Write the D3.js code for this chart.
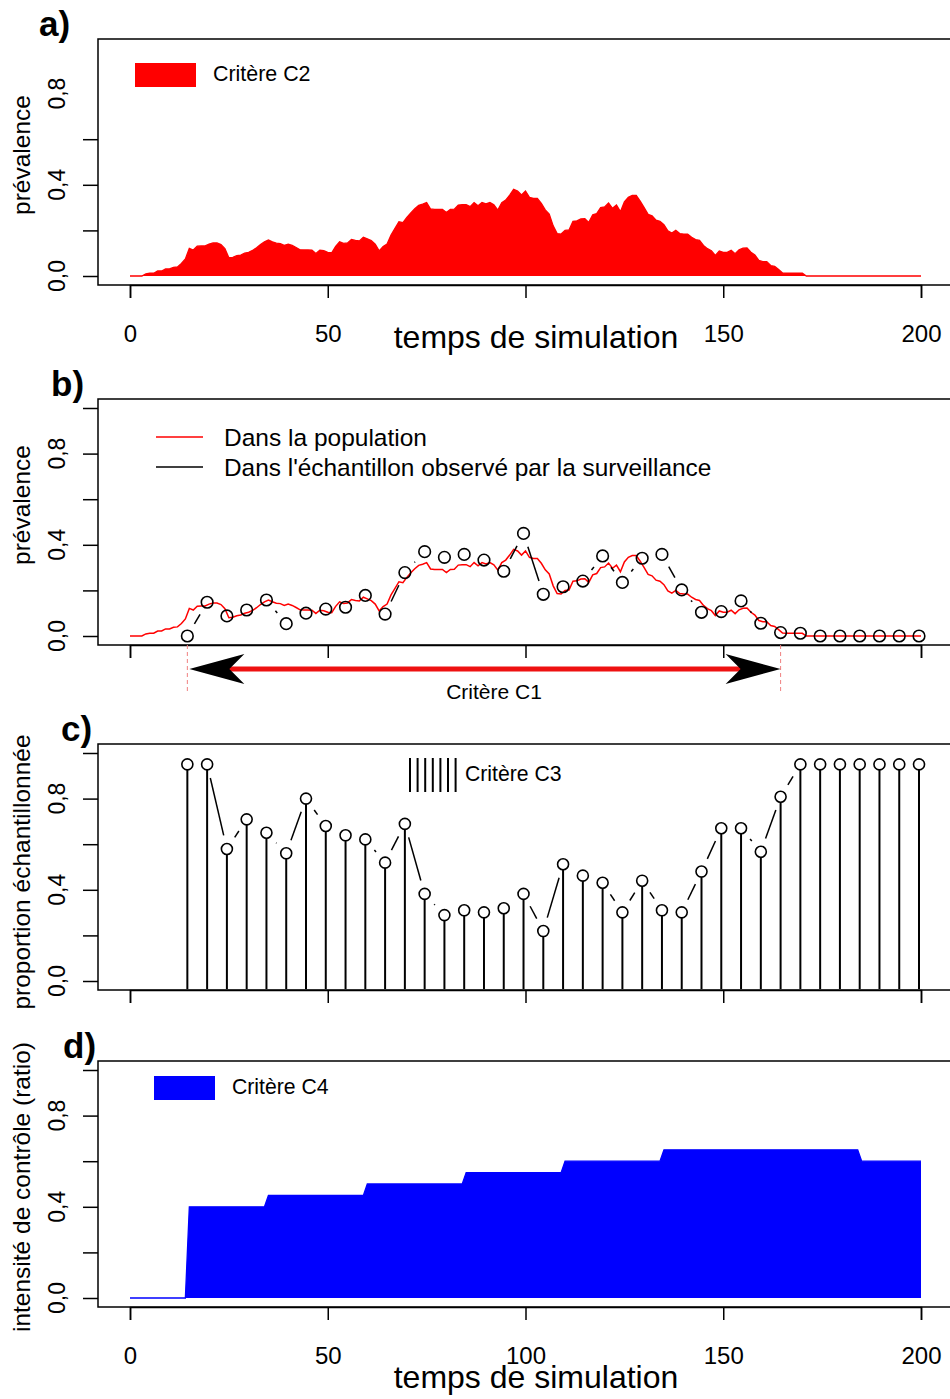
<!DOCTYPE html>
<html><head><meta charset="utf-8">
<script src="https://cdn.jsdelivr.net/npm/d3@7"></script>
<style>body{margin:0;background:#fff} svg{display:block}</style>
</head><body>
<script>
// ---------- DATA ----------
const prevalence = [
 0,0,0,0,0.009,0.012,0.012,0.022,0.022,0.031,
 0.031,0.038,0.04,0.055,0.075,0.121,0.114,0.131,0.132,0.132,
 0.14,0.145,0.145,0.138,0.12,0.08,0.082,0.089,0.092,0.1,
 0.104,0.112,0.124,0.138,0.15,0.158,0.15,0.144,0.142,0.134,
 0.14,0.134,0.125,0.115,0.114,0.114,0.113,0.099,0.113,0.111,
 0.104,0.102,0.13,0.15,0.143,0.145,0.16,0.156,0.154,0.17,
 0.163,0.155,0.14,0.11,0.129,0.14,0.18,0.209,0.238,0.234,
 0.257,0.277,0.295,0.31,0.315,0.322,0.294,0.292,0.292,0.292,
 0.278,0.292,0.293,0.311,0.313,0.313,0.304,0.322,0.308,0.322,
 0.316,0.322,0.312,0.289,0.322,0.333,0.355,0.38,0.373,0.355,
 0.373,0.345,0.34,0.34,0.319,0.29,0.272,0.22,0.186,0.184,
 0.2,0.202,0.24,0.242,0.25,0.251,0.235,0.268,0.274,0.3,
 0.303,0.32,0.297,0.311,0.282,0.325,0.345,0.353,0.353,0.328,
 0.3,0.27,0.264,0.245,0.24,0.225,0.198,0.188,0.2,0.186,
 0.184,0.184,0.17,0.16,0.156,0.134,0.12,0.111,0.09,0.11,
 0.104,0.104,0.113,0.098,0.115,0.122,0.123,0.104,0.092,0.068,
 0.063,0.063,0.046,0.042,0.028,0.013,0.012,0.012,0.012,0.012,
 0.012,0,0,0,0,0,0,0,0,0,
 0,0,0,0,0,0,0,0,0,0,
 0,0,0,0,0,0,0,0,0,0,
 0
];
const sampleTimes = [14.5,19.5,24.5,29.5,34.5,39.5,44.5,49.5,54.5,59.5,64.5,69.5,74.5,79.5,84.5,89.5,94.5,99.5,104.5,109.5,
  114.5,119.5,124.5,129.5,134.5,139.5,144.5,149.5,154.5,159.5,164.5,169.5,174.5,179.5,184.5,189.5,194.5,199.5];
const samplePrev = [0,0.148,0.088,0.114,0.158,0.054,0.1,0.118,0.126,0.178,0.096,0.278,0.37,0.345,0.358,0.333,0.284,0.45,0.183,0.216,
  0.241,0.351,0.235,0.341,0.358,0.202,0.104,0.107,0.154,0.056,0.015,0.012,0,0,0,0,0,0];
const sampleProp = [0.95,0.95,0.579,0.709,0.65,0.56,0.8,0.68,0.639,0.621,0.519,0.689,0.382,0.289,0.31,0.301,0.319,0.382,0.219,0.512,
  0.462,0.431,0.301,0.44,0.31,0.301,0.48,0.67,0.67,0.567,0.808,0.95,0.95,0.95,0.95,0.95,0.95,0.95];
const controlTimes  = [0,14,15,34,35,59,60,84,85,109,110,134,135,184,185,200];
const controlValues = [0,0,0.4,0.4,0.45,0.45,0.5,0.5,0.55,0.55,0.6,0.6,0.65,0.65,0.6,0.6];
const xTicks = [0,50,100,150,200];
const xTickLabelsA = ["0","50","","150","200"];
const xTickLabelsD = ["0","50","100","150","200"];
const yLabelTicks = [0,0.4,0.8];
const yTicksA = [0,0.2,0.4,0.6];
const yTicksFull = [0,0.2,0.4,0.6,0.8,1.0];
const c1Range = [14.5,164.5];

// ---------- DRAW ----------
const W=950,H=1399;
const FONT="'Liberation Sans', Arial, Helvetica, sans-serif";
const svg=d3.select("body").append("svg").attr("width",W).attr("height",H)
  .style("font-family",FONT);
const x=d3.scaleLinear().domain([0,200]).range([130,921]);
const boxL=98, boxR=974;
const fmt=d=>d3.format(".1f")(d).replace(".",",");

function panel(y0, opts){
  const y=d3.scaleLinear().domain([0,1]).range([y0,y0-228]);
  const top=y0-237, bot=y0+9;
  const g=svg.append("g");
  g.append("rect").attr("x",boxL).attr("y",top).attr("width",boxR-boxL).attr("height",bot-top)
    .attr("fill","none").attr("stroke","#000").attr("stroke-width",1.5);
  const yAx=d3.axisLeft(y).tickValues(opts.yTicks).tickSize(15).tickFormat("");
  const ya=g.append("g").attr("transform",`translate(${boxL},0)`).call(yAx);
  ya.select(".domain").remove();
  ya.selectAll("line").attr("stroke","#000").attr("stroke-width",1.5);
  g.selectAll(".yl").data(yLabelTicks).join("text")
    .attr("transform",d=>`translate(65,${y(d)}) rotate(-90)`)
    .attr("text-anchor","middle").attr("font-size",23).text(fmt);
  g.append("text").attr("transform",`translate(${opts.ylabX||30},${opts.ylabY}) rotate(-90)`)
    .attr("text-anchor","middle").attr("font-size",24.5).text(opts.ylab);
  const labs=opts.xlabels;
  const xAx=d3.axisBottom(x).tickValues(xTicks).tickSize(13)
    .tickFormat(labs?((d,i)=>labs[i]):"");
  const xa=g.append("g").attr("transform",`translate(0,${bot})`).call(xAx);
  xa.select(".domain").attr("stroke","#000").attr("stroke-width",1.5);
  xa.selectAll("line").attr("stroke","#000").attr("stroke-width",1.5);
  xa.selectAll("text").attr("font-size",24).attr("font-family",FONT).attr("fill","#000").attr("dy",0).attr("y",57);
  g.append("text").attr("x",opts.labX).attr("y",top-3).attr("font-size",35).attr("font-weight","bold").text(opts.label);
  return {g,y,top,bot};
}

// ---- a) ----
{
  const p=panel(276,{yTicks:yTicksA,ylab:"prévalence",ylabY:155,label:"a)",labX:39,xlabels:xTickLabelsA});
  const area=d3.area().x((d,i)=>x(i)).y0(p.y(0)).y1(d=>p.y(d));
  p.g.append("path").datum(prevalence).attr("d",area).attr("fill","#ff0000");
  p.g.append("path").datum(prevalence).attr("d",d3.line().x((d,i)=>x(i)).y(d=>p.y(d)))
    .attr("fill","none").attr("stroke","#ff0000").attr("stroke-width",1.3);
  p.g.append("rect").attr("x",135).attr("y",63).attr("width",61).attr("height",24).attr("fill","#ff0000");
  p.g.append("text").attr("x",213).attr("y",81).attr("font-size",21.4).text("Critère C2");
  p.g.append("text").attr("x",536).attr("y",348).attr("text-anchor","middle").attr("font-size",32).text("temps de simulation");
}

function typeB(g, xs, ys, gap, stroke){
  for(let i=0;i<xs.length-1;i++){
    const x1=xs[i],y1=ys[i],x2=xs[i+1],y2=ys[i+1];
    const L=Math.hypot(x2-x1,y2-y1);
    if(L<=2*gap) continue;
    const ux=(x2-x1)/L, uy=(y2-y1)/L;
    g.append("line").attr("x1",x1+ux*gap).attr("y1",y1+uy*gap).attr("x2",x2-ux*gap).attr("y2",y2-uy*gap)
      .attr("stroke",stroke).attr("stroke-width",1.5);
  }
}

// ---- b) ----
{
  const p=panel(636,{yTicks:yTicksFull,ylab:"prévalence",ylabY:505,label:"b)",labX:51,xlabels:null});
  p.g.append("path").datum(prevalence).attr("d",d3.line().x((d,i)=>x(i)).y(d=>p.y(d)))
    .attr("fill","none").attr("stroke","#ff0000").attr("stroke-width",1.5);
  const xs=sampleTimes.map(t=>x(t)), ys=samplePrev.map(v=>p.y(v));
  typeB(p.g,xs,ys,14,"#000");
  p.g.selectAll(".pt").data(sampleTimes).join("circle")
    .attr("cx",(d)=>x(d)).attr("cy",(d,i)=>p.y(samplePrev[i])).attr("r",5.8)
    .attr("fill","none").attr("stroke","#000").attr("stroke-width",1.6);
  p.g.append("line").attr("x1",156).attr("x2",203).attr("y1",437).attr("y2",437).attr("stroke","#ff0000").attr("stroke-width",1.5);
  p.g.append("line").attr("x1",156).attr("x2",203).attr("y1",467).attr("y2",467).attr("stroke","#000").attr("stroke-width",1.5);
  p.g.append("text").attr("x",224).attr("y",446).attr("font-size",24.5).text("Dans la population");
  p.g.append("text").attr("x",224).attr("y",476).attr("font-size",24.4).text("Dans l'échantillon observé par la surveillance");
  const ay=669;
  c1Range.forEach(t=>{
    p.g.append("line").attr("x1",x(t)).attr("x2",x(t)).attr("y1",p.bot).attr("y2",692)
      .attr("stroke","#f08080").attr("stroke-width",1).attr("stroke-dasharray","4,3");
  });
  const xl=x(c1Range[0]), xr=x(c1Range[1]);
  p.g.append("line").attr("x1",xl+30).attr("x2",xr-30).attr("y1",ay).attr("y2",ay).attr("stroke","#ee1111").attr("stroke-width",5);
  const head=(tx,dir)=>{
    const L=55,Hh=15,N=40;
    return `M${tx},${ay} L${tx+dir*L},${ay-Hh} L${tx+dir*N},${ay} L${tx+dir*L},${ay+Hh} Z`;
  };
  p.g.append("path").attr("d",head(xl+2,1)).attr("fill","#000");
  p.g.append("path").attr("d",head(xr,-1)).attr("fill","#000");
  p.g.append("text").attr("x",494).attr("y",699).attr("text-anchor","middle").attr("font-size",21).text("Critère C1");
}

// ---- c) ----
{
  const p=panel(981,{yTicks:yTicksFull,ylab:"proportion échantillonnée",ylabY:872,label:"c)",labX:61,xlabels:null});
  const xs=sampleTimes.map(t=>x(t)), ys=sampleProp.map(v=>p.y(v));
  p.g.selectAll(".st").data(sampleTimes).join("line")
    .attr("x1",d=>x(d)).attr("x2",d=>x(d)).attr("y1",(d,i)=>p.y(sampleProp[i])).attr("y2",p.bot-1)
    .attr("stroke","#000").attr("stroke-width",2);
  typeB(p.g,xs,ys,14,"#000");
  p.g.selectAll(".pt").data(sampleTimes).join("circle")
    .attr("cx",d=>x(d)).attr("cy",(d,i)=>p.y(sampleProp[i])).attr("r",5.5)
    .attr("fill","#fff").attr("stroke","#000").attr("stroke-width",1.6);
  for(let k=0;k<7;k++){
    const lx=410+k*7.6;
    p.g.append("line").attr("x1",lx).attr("x2",lx).attr("y1",758).attr("y2",792).attr("stroke","#000").attr("stroke-width",2);
  }
  p.g.append("text").attr("x",465).attr("y",781).attr("font-size",21.2).text("Critère C3");
}

// ---- d) ----
{
  const p=panel(1298,{yTicks:yTicksFull,ylab:"intensité de contrôle (ratio)",ylabY:1187,label:"d)",labX:63,xlabels:xTickLabelsD});
  const pts=controlTimes.map((t,i)=>[t,controlValues[i]]);
  p.g.append("path").datum(pts).attr("d",d3.area().x(d=>x(d[0])).y0(p.y(0)).y1(d=>p.y(d[1])))
    .attr("fill","#0000ff");
  p.g.append("path").datum(pts).attr("d",d3.line().x(d=>x(d[0])).y(d=>p.y(d[1])))
    .attr("fill","none").attr("stroke","#0000ff").attr("stroke-width",1.3);
  p.g.append("rect").attr("x",154).attr("y",1076).attr("width",61).attr("height",24).attr("fill","#0000ff");
  p.g.append("text").attr("x",232).attr("y",1094).attr("font-size",21.2).text("Critère C4");
  p.g.append("text").attr("x",536).attr("y",1388).attr("text-anchor","middle").attr("font-size",32).text("temps de simulation");
}
</script>
</body></html>
